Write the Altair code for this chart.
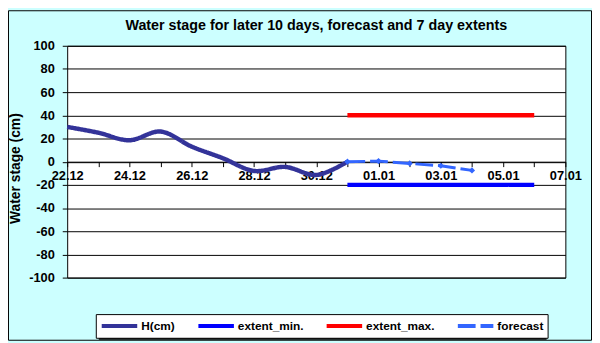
import altair as alt
import pandas as pd

# ---- data ----
obs_dates = ["2023-12-22", "2023-12-23", "2023-12-24", "2023-12-25", "2023-12-26",
             "2023-12-27", "2023-12-28", "2023-12-29", "2023-12-30", "2023-12-31"]
h_values = [30, 25, 18.5, 26, 13, 3, -8, -4.5, -11.5, 0]

fc_dates = ["2023-12-31", "2024-01-01", "2024-01-02", "2024-01-03", "2024-01-04"]
fc_values = [0, 0.5, -1.5, -3.5, -7.5]

ext_dates = ["2023-12-31", "2024-01-06"]
ext_min = [-20, -20]
ext_max = [40, 40]

series_names = ["H(cm)", "extent_min.", "extent_max.", "forecast"]
series_colors = ["#333399", "#0000FF", "#FF0000", "#3366FF"]
series_dash = [[1, 0], [1, 0], [1, 0], [18, 5]]

FONT = "Liberation Sans"

rows_a = ([{"date": d, "value": v, "series": "H(cm)"} for d, v in zip(obs_dates, h_values)] +
          [{"date": d, "value": v, "series": "extent_min."} for d, v in zip(ext_dates, ext_min)] +
          [{"date": d, "value": v, "series": "extent_max."} for d, v in zip(ext_dates, ext_max)])
df_a = pd.DataFrame(rows_a)
df_fc = pd.DataFrame({"date": fc_dates, "value": fc_values, "series": "forecast"})

W, H = 505, 235
PL, PT, PR, PB = 60, 36, 27, 64   # total 592 x 335

tick_days = pd.date_range("2023-12-22", "2024-01-07", freq="D")
tick_values = [alt.DateTime(year=t.year, month=t.month, date=t.day, utc=True) for t in tick_days]

x_enc = alt.X(
    "date:T",
    scale=alt.Scale(type="utc",
                    domain=[alt.DateTime(year=2023, month=12, date=22, utc=True),
                            alt.DateTime(year=2024, month=1, date=7, utc=True)]),
    axis=alt.Axis(
        title=None, values=tick_values, grid=False, offset=-H / 2,
        labelExpr="round((datum.value - utc(2023, 11, 22)) / 86400000) % 2 == 0 ? utcFormat(datum.value, '%d.%m') : ''",
        labelFont=FONT, labelFontSize=13, labelFontWeight="bold", labelColor="black",
        tickSize=5, tickColor="black", domainColor="black", labelPadding=3,
        labelOverlap=False, labelFlush=False,
    ),
)
y_enc = alt.Y(
    "value:Q",
    scale=alt.Scale(domain=[-100, 100], nice=False, zero=False),
    axis=alt.Axis(
        title="Water stage (cm)", values=list(range(-100, 101, 20)),
        labelExpr="'' + datum.value",
        grid=True, gridColor="black", gridOpacity=1, domain=False,
        labelFont=FONT, labelFontSize=13, labelFontWeight="bold", labelColor="black",
        tickSize=5, tickColor="black", labelPadding=8,
        titleFont=FONT, titleFontSize=14, titleFontWeight="bold", titleColor="black",
        titleX=-45, titleY=124, titleAlign="center", titleBaseline="bottom",
    ),
)
color_enc = alt.Color(
    "series:N",
    scale=alt.Scale(domain=series_names, range=series_colors),
    legend=alt.Legend(
        title=None, orient="none", legendX=29, legendY=272, direction="horizontal",
        symbolType="M-1,0H5", symbolSize=144, symbolStrokeWidth=4,
        labelFont=FONT, labelFontSize=12, labelFontWeight="bold", labelColor="black",
        padding=4, columnPadding=15, labelOffset=26,
        strokeColor="black", fillColor="white", zindex=2,
    ),
)
dash_enc = alt.StrokeDash(
    "series:N",
    scale=alt.Scale(domain=series_names, range=series_dash),
    legend=alt.Legend(title=None),
)

lines_a = alt.Chart(df_a).mark_line(interpolate="catmull-rom", strokeWidth=4.5).encode(
    x=x_enc, y=y_enc, color=color_enc, strokeDash=dash_enc, detail="series:N"
)
line_fc = alt.Chart(df_fc).mark_line(strokeWidth=3).encode(
    x=x_enc, y=y_enc, color=color_enc, strokeDash=dash_enc
)
pts_fc = alt.Chart(df_fc).mark_point(shape="diamond", filled=True, size=40, opacity=1,
                                     color="#3366FF").encode(x=x_enc, y=y_enc)

one = alt.Data(values=[{}])
# legend drop shadow
shadow = alt.Chart(one).mark_rect(fill="black", stroke=None).encode(
    x=alt.value(32), x2=alt.value(486), y=alt.value(275), y2=alt.value(298)
)
# outer chart frame
frame = alt.Chart(one).mark_rect(fill=None, stroke="black", strokeWidth=1).encode(
    x=alt.value(-PL + 0.5), x2=alt.value(W + PR - 0.5),
    y=alt.value(-PT + 0.5), y2=alt.value(H + PB - 0.5)
)

chart = alt.layer(lines_a, line_fc, pts_fc, shadow, frame).properties(
    width=W, height=H,
    title=alt.TitleParams(
        "Water stage for later 10 days, forecast and 7 day  extents",
        font=FONT, fontSize=14.5, fontWeight="bold", color="black", anchor="middle",
        frame="group", baseline="alphabetic", offset=0, dy=34,
    ),
    autosize=alt.AutoSizeParams(type="none"),
    padding={"left": PL, "top": PT, "right": PR, "bottom": PB},
    background="#CCFFFF",
).configure_view(fill="white", stroke="black", strokeWidth=1)

chart.save("out.html", embed_options={"renderer": "svg", "actions": False})
